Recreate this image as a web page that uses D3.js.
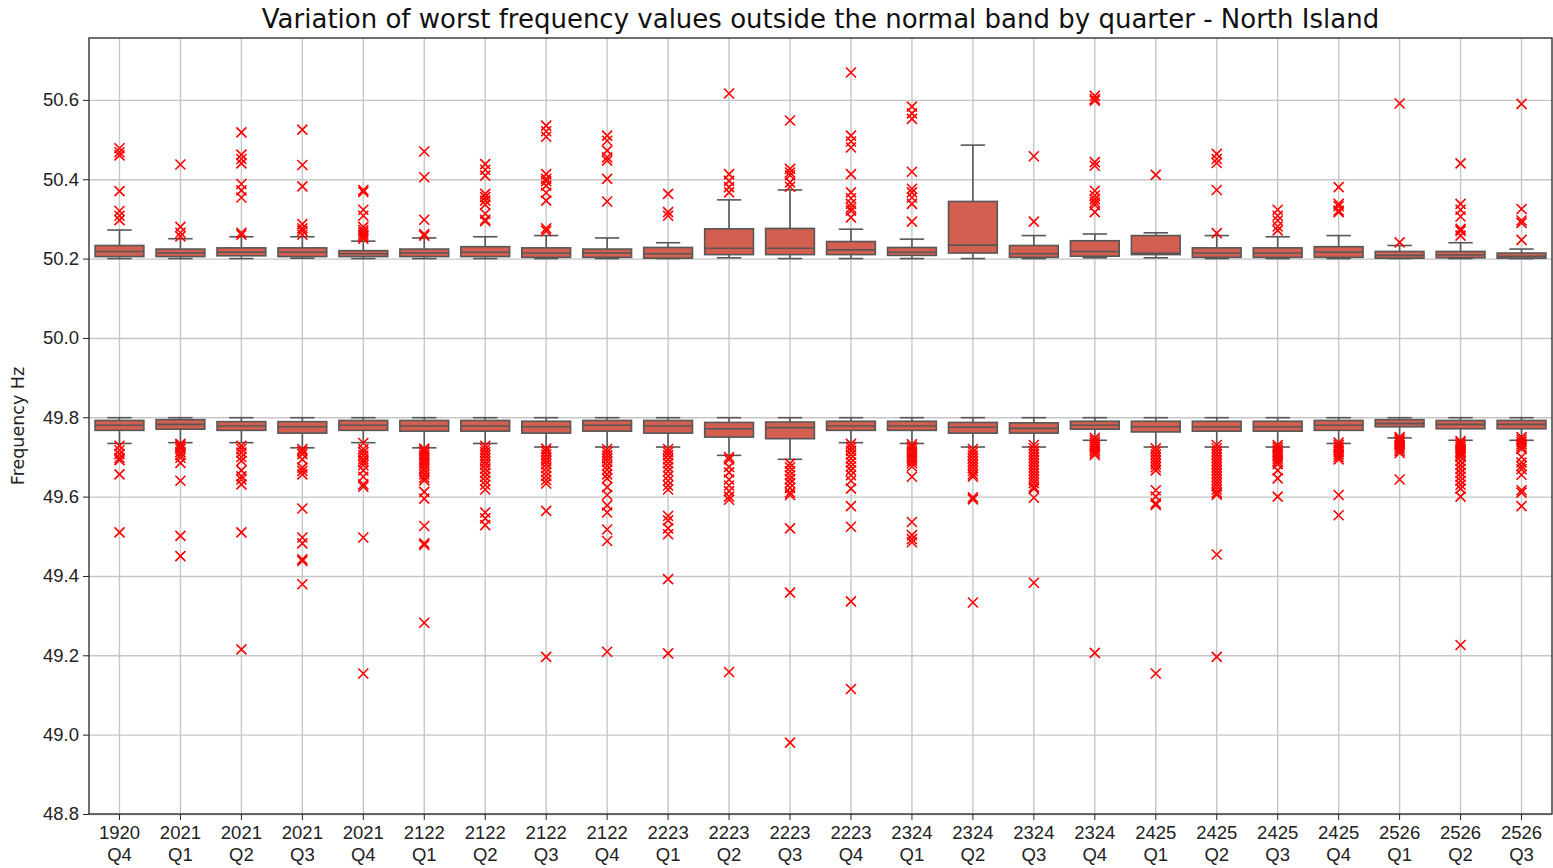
<!DOCTYPE html>
<html>
<head>
<meta charset="utf-8">
<script src="https://cdn.jsdelivr.net/npm/d3@7"></script>
<style>
  body { margin: 0; background: #fff; }
  svg { font-family: "DejaVu Sans", sans-serif; }
  .grid line { stroke: #c6c6c6; stroke-width: 1.4; }
  .grid path { display: none; }
  .axis text { font-size: 18.5px; fill: #222; }
  .axis line { stroke: #222; }
</style>
</head>
<body>
<svg id="chart" width="1553" height="868"></svg>
<script>
const categories = ["1920 Q4","2021 Q1","2021 Q2","2021 Q3","2021 Q4","2122 Q1","2122 Q2","2122 Q3","2122 Q4",
  "2223 Q1","2223 Q2","2223 Q3","2223 Q4","2324 Q1","2324 Q2","2324 Q3","2324 Q4","2425 Q1","2425 Q2",
  "2425 Q3","2425 Q4","2526 Q1","2526 Q2","2526 Q3"];

const yTicks = [48.8, 49.0, 49.2, 49.4, 49.6, 49.8, 50.0, 50.2, 50.4, 50.6];

// upper band (above 50.2 Hz)
const highQ1  = [50.205,50.205,50.207,50.205,50.205,50.205,50.205,50.203,50.203,50.201,50.210,50.210,50.210,50.208,50.214,50.203,50.206,50.210,50.203,50.203,50.203,50.201,50.202,50.201];
const highMed = [50.218,50.214,50.216,50.216,50.212,50.214,50.216,50.214,50.214,50.212,50.226,50.226,50.222,50.216,50.234,50.212,50.218,50.213,50.214,50.214,50.216,50.208,50.209,50.206];
const highQ3  = [50.233,50.224,50.227,50.227,50.220,50.224,50.230,50.227,50.224,50.228,50.275,50.276,50.243,50.228,50.344,50.233,50.245,50.258,50.227,50.227,50.230,50.218,50.218,50.214];
const highLo  = [50.200,50.200,50.200,50.201,50.200,50.200,50.200,50.200,50.200,50.200,50.202,50.200,50.200,50.200,50.200,50.200,50.202,50.202,50.200,50.200,50.200,50.200,50.200,50.200];
const highHi  = [50.272,50.250,50.255,50.255,50.244,50.252,50.255,50.258,50.252,50.240,50.348,50.373,50.274,50.249,50.486,50.258,50.262,50.265,50.258,50.255,50.258,50.233,50.240,50.224];
const highOut = [
  [50.478,50.468,50.460,50.370,50.320,50.308,50.297],
  [50.437,50.280,50.265,50.256],
  [50.518,50.462,50.451,50.440,50.388,50.372,50.354,50.265,50.260],
  [50.525,50.436,50.382,50.287,50.276,50.270,50.260],
  [50.373,50.368,50.323,50.308,50.280,50.272,50.266,50.260,50.255,50.250],
  [50.470,50.405,50.298,50.262,50.258],
  [50.438,50.424,50.409,50.363,50.355,50.346,50.336,50.313,50.298,50.294],
  [50.535,50.521,50.507,50.413,50.401,50.395,50.384,50.366,50.346,50.276,50.270],
  [50.510,50.497,50.472,50.455,50.447,50.401,50.344],
  [50.363,50.317,50.308],
  [50.616,50.413,50.396,50.380,50.367],
  [50.548,50.426,50.417,50.410,50.392,50.381],
  [50.669,50.510,50.495,50.480,50.413,50.367,50.352,50.338,50.328,50.321,50.304],
  [50.583,50.566,50.552,50.419,50.376,50.367,50.354,50.338,50.293],
  [],
  [50.458,50.293],
  [50.610,50.602,50.598,50.443,50.434,50.371,50.359,50.350,50.342,50.335,50.317],
  [50.411],
  [50.464,50.451,50.441,50.373,50.264],
  [50.323,50.308,50.296,50.281,50.271],
  [50.380,50.338,50.332,50.321,50.317],
  [50.591,50.241],
  [50.440,50.338,50.323,50.306,50.275,50.270,50.258],
  [50.590,50.325,50.296,50.290,50.247]
];

// lower band (below 49.8 Hz)
const lowQ1  = [49.767,49.770,49.767,49.760,49.767,49.765,49.765,49.760,49.765,49.760,49.750,49.746,49.767,49.767,49.760,49.760,49.770,49.763,49.765,49.765,49.767,49.776,49.771,49.771];
const lowMed = [49.780,49.782,49.778,49.776,49.780,49.778,49.778,49.776,49.780,49.778,49.771,49.774,49.778,49.778,49.775,49.772,49.780,49.776,49.776,49.776,49.780,49.784,49.782,49.782];
const lowQ3  = [49.792,49.794,49.789,49.789,49.792,49.792,49.792,49.790,49.792,49.792,49.787,49.788,49.790,49.790,49.787,49.786,49.790,49.790,49.790,49.790,49.792,49.794,49.792,49.792];
const lowLo  = [49.734,49.736,49.736,49.723,49.736,49.723,49.734,49.725,49.725,49.725,49.704,49.694,49.736,49.734,49.725,49.725,49.742,49.725,49.725,49.725,49.734,49.748,49.742,49.742];
const lowHi  = [49.799,49.799,49.799,49.799,49.799,49.799,49.799,49.799,49.799,49.799,49.799,49.799,49.799,49.799,49.799,49.799,49.799,49.799,49.799,49.799,49.799,49.799,49.799,49.799];
const lowOut = [
  [49.728,49.717,49.707,49.698,49.692,49.656,49.510],
  [49.733,49.729,49.725,49.720,49.712,49.705,49.698,49.685,49.640,49.501,49.450],
  [49.728,49.720,49.711,49.700,49.690,49.666,49.651,49.643,49.631,49.510,49.215],
  [49.720,49.714,49.707,49.694,49.673,49.665,49.656,49.570,49.497,49.482,49.442,49.438,49.379],
  [49.735,49.720,49.712,49.704,49.694,49.687,49.679,49.666,49.650,49.631,49.625,49.497,49.154],
  [49.721,49.716,49.710,49.704,49.698,49.692,49.686,49.680,49.672,49.665,49.656,49.648,49.641,49.612,49.595,49.526,49.482,49.478,49.282],
  [49.728,49.720,49.712,49.704,49.696,49.688,49.680,49.670,49.660,49.650,49.640,49.630,49.618,49.560,49.545,49.528],
  [49.721,49.714,49.706,49.698,49.690,49.682,49.672,49.662,49.652,49.642,49.633,49.564,49.196],
  [49.720,49.712,49.704,49.696,49.688,49.678,49.668,49.656,49.646,49.624,49.604,49.578,49.560,49.517,49.488,49.209],
  [49.720,49.712,49.704,49.694,49.684,49.674,49.664,49.652,49.640,49.628,49.618,49.551,49.540,49.520,49.505,49.392,49.205],
  [49.700,49.694,49.675,49.661,49.643,49.628,49.614,49.600,49.592,49.158],
  [49.683,49.674,49.664,49.654,49.644,49.634,49.622,49.610,49.604,49.520,49.358,48.980],
  [49.733,49.724,49.716,49.706,49.696,49.686,49.676,49.666,49.654,49.640,49.620,49.576,49.524,49.336,49.115],
  [49.732,49.726,49.720,49.714,49.708,49.702,49.696,49.690,49.684,49.676,49.650,49.536,49.503,49.493,49.485],
  [49.720,49.712,49.704,49.696,49.688,49.680,49.672,49.664,49.656,49.650,49.598,49.593,49.333],
  [49.730,49.722,49.714,49.706,49.698,49.690,49.682,49.674,49.666,49.658,49.650,49.642,49.634,49.625,49.620,49.597,49.383],
  [49.748,49.742,49.736,49.730,49.725,49.720,49.715,49.710,49.705,49.206],
  [49.722,49.714,49.706,49.698,49.690,49.682,49.674,49.666,49.616,49.600,49.583,49.579,49.154],
  [49.730,49.722,49.714,49.706,49.698,49.690,49.682,49.674,49.666,49.658,49.650,49.642,49.634,49.626,49.618,49.610,49.605,49.454,49.196],
  [49.730,49.724,49.718,49.712,49.706,49.700,49.694,49.688,49.682,49.666,49.646,49.600],
  [49.736,49.730,49.724,49.718,49.712,49.706,49.700,49.694,49.604,49.553],
  [49.750,49.745,49.740,49.735,49.730,49.725,49.720,49.715,49.710,49.643],
  [49.740,49.735,49.730,49.725,49.720,49.715,49.710,49.705,49.700,49.690,49.680,49.670,49.660,49.650,49.640,49.630,49.620,49.600,49.226],
  [49.750,49.744,49.738,49.732,49.726,49.720,49.700,49.686,49.677,49.669,49.655,49.616,49.610,49.576]
];

const width = 1553, height = 868;
const margin = { top: 38, right: 1, bottom: 54, left: 89 };
const svg = d3.select('#chart');

const x = d3.scaleBand()
  .domain(categories)
  .range([margin.left, width - margin.right])
  .paddingInner(0.2)
  .paddingOuter(0.1);

const y = d3.scaleLinear()
  .domain([48.8, 50.756])
  .range([height - margin.bottom, margin.top]);

const plotW = width - margin.right - margin.left;
const plotH = height - margin.bottom - margin.top;

// grid
svg.append('g')
  .attr('class', 'grid')
  .attr('transform', `translate(${margin.left},0)`)
  .call(d3.axisLeft(y).tickValues(yTicks).tickSize(-plotW).tickFormat(''));

svg.append('g')
  .attr('class', 'grid')
  .attr('transform', `translate(0,${margin.top})`)
  .call(d3.axisBottom(x).tickSize(plotH).tickFormat(''));

// boxes
function band(stats, cls) {
  const groups = svg.append('g').selectAll(`.${cls}`)
    .data(categories.map((c, i) => ({
      c, q1: stats.q1[i], med: stats.med[i], q3: stats.q3[i],
      lo: stats.lo[i], hi: stats.hi[i], out: stats.out[i]
    })))
    .enter()
    .append('g')
    .attr('class', cls);

  const bw = x.bandwidth();
  const cx = d => x(d.c) + bw / 2;
  const edge = '#575757', lw = 1.6;

  groups.append('line')
    .attr('x1', cx).attr('x2', cx)
    .attr('y1', d => y(d.hi)).attr('y2', d => y(d.lo))
    .attr('stroke', edge).attr('stroke-width', lw);

  groups.selectAll('.cap')
    .data(d => [d.lo, d.hi].map(v => ({ c: d.c, v })))
    .enter()
    .append('line')
    .attr('class', 'cap')
    .attr('x1', d => cx(d) - bw / 4).attr('x2', d => cx(d) + bw / 4)
    .attr('y1', d => y(d.v)).attr('y2', d => y(d.v))
    .attr('stroke', edge).attr('stroke-width', lw);

  groups.append('rect')
    .attr('x', d => x(d.c))
    .attr('width', bw)
    .attr('y', d => y(d.q3))
    .attr('height', d => Math.max(1, y(d.q1) - y(d.q3)))
    .attr('fill', '#d25f50')
    .attr('stroke', edge).attr('stroke-width', lw);

  groups.append('line')
    .attr('x1', d => x(d.c)).attr('x2', d => x(d.c) + bw)
    .attr('y1', d => y(d.med)).attr('y2', d => y(d.med))
    .attr('stroke', edge).attr('stroke-width', lw);

  groups.selectAll('.flier')
    .data(d => d.out.map(v => ({ c: d.c, v })))
    .enter()
    .append('path')
    .attr('class', 'flier')
    .attr('transform', d => `translate(${cx(d)},${y(d.v)})`)
    .attr('d', 'M-5,-5L5,5M-5,5L5,-5')
    .attr('stroke', '#ff0000')
    .attr('stroke-width', 1.6)
    .attr('fill', 'none');
}

band({ q1: highQ1, med: highMed, q3: highQ3, lo: highLo, hi: highHi, out: highOut }, 'high');
band({ q1: lowQ1, med: lowMed, q3: lowQ3, lo: lowLo, hi: lowHi, out: lowOut }, 'low');

// axes
const yAxis = svg.append('g')
  .attr('class', 'axis')
  .attr('transform', `translate(${margin.left},0)`)
  .call(d3.axisLeft(y).tickValues(yTicks).tickSize(6).tickPadding(4).tickFormat(d3.format('.1f')));
yAxis.select('.domain').remove();

const xAxis = svg.append('g')
  .attr('class', 'axis')
  .attr('transform', `translate(0,${height - margin.bottom})`)
  .call(d3.axisBottom(x).tickSize(6).tickFormat(''));
xAxis.select('.domain').remove();

xAxis.selectAll('.tick')
  .append('text')
  .attr('text-anchor', 'middle')
  .attr('y', 25)
  .attr('fill', '#222')
  .selectAll('tspan')
  .data(d => d.split(' '))
  .enter()
  .append('tspan')
  .attr('x', 0)
  .attr('dy', (d, i) => (i === 0 ? 0 : '1.2em'))
  .text(d => d);

// frame
svg.append('rect')
  .attr('x', margin.left)
  .attr('y', margin.top)
  .attr('width', plotW)
  .attr('height', plotH)
  .attr('fill', 'none')
  .attr('stroke', '#333')
  .attr('stroke-width', 1.4);

// labels
svg.append('text')
  .attr('x', margin.left + plotW / 2)
  .attr('y', 28)
  .attr('text-anchor', 'middle')
  .attr('font-size', 26)
  .attr('fill', '#111')
  .text('Variation of worst frequency values outside the normal band by quarter - North Island');

svg.append('text')
  .attr('transform', `translate(24,${margin.top + plotH / 2}) rotate(-90)`)
  .attr('text-anchor', 'middle')
  .attr('font-size', 17.5)
  .attr('fill', '#222')
  .text('Frequency Hz');
</script>
</body>
</html>
